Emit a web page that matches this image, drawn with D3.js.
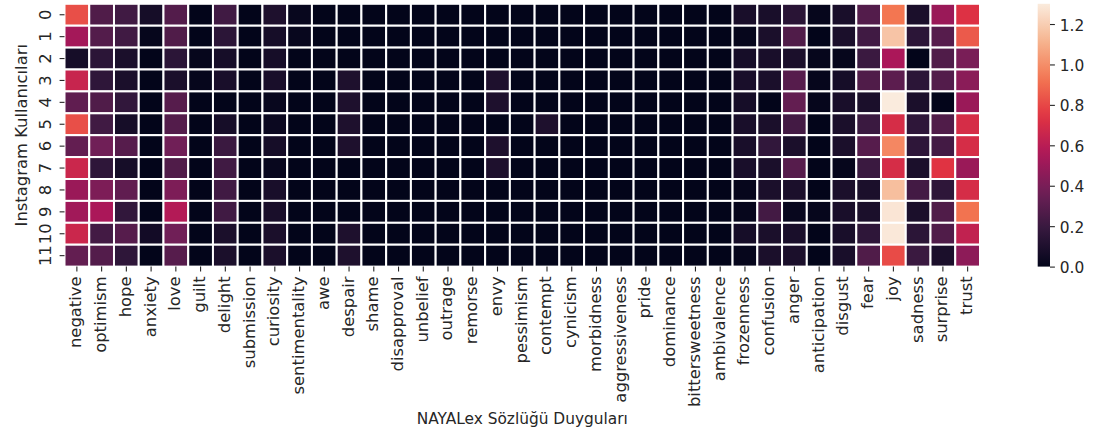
<!DOCTYPE html>
<html>
<head>
<meta charset="utf-8">
<script src="https://cdn.jsdelivr.net/npm/d3@7"></script>
<style>
  html, body { margin: 0; padding: 0; background: #ffffff; }
  svg { display: block; }
  text { font-family: "DejaVu Sans", sans-serif; fill: #262626; }
</style>
</head>
<body>
<svg id="chart" width="1094" height="435"></svg>
<script>
// Emotion categories of the NAYALex lexicon (columns)
const emotions = [
  "negative", "optimism", "hope", "anxiety", "love", "guilt", "delight",
  "submission", "curiosity", "sentimentality", "awe", "despair", "shame",
  "disapproval", "unbelief", "outrage", "remorse", "envy", "pessimism",
  "contempt", "cynicism", "morbidness", "aggressiveness", "pride",
  "dominance", "bittersweetness", "ambivalence", "frozenness", "confusion",
  "anger", "anticipation", "disgust", "fear", "joy", "sadness", "surprise", "trust"
];

// Instagram users (rows)
const users = ["0", "1", "2", "3", "4", "5", "6", "7", "8", "9", "10", "11"];

// Emotion scores per user; each row: negative..sentimentality | awe..ambivalence | frozenness..trust
const scores = [
  [0.82, 0.27, 0.22, 0.07, 0.28, 0.00, 0.22, 0.00, 0.10, 0.02,  0, 0,    0, 0, 0, 0, 0, 0,    0, 0,    0, 0, 0, 0, 0, 0, 0,  0.08, 0.08, 0.14, 0.01, 0.08, 0.28, 0.93, 0.09, 0.50, 0.73],
  [0.53, 0.28, 0.22, 0.01, 0.27, 0.00, 0.15, 0.00, 0.07, 0.02,  0, 0,    0, 0, 0, 0, 0, 0,    0, 0,    0, 0, 0, 0, 0, 0, 0,  0.01, 0.09, 0.27, 0.00, 0.09, 0.22, 1.17, 0.15, 0.29, 0.85],
  [0.07, 0.15, 0.09, 0.00, 0.15, 0.01, 0.07, 0.00, 0.07, 0.00,  0, 0,    0, 0, 0, 0, 0, 0,    0, 0,    0, 0, 0, 0, 0, 0, 0,  0.07, 0.08, 0.09, 0.01, 0.01, 0.20, 0.55, 0.00, 0.27, 0.40],
  [0.65, 0.16, 0.09, 0.00, 0.09, 0.01, 0.08, 0.00, 0.08, 0.00,  0, 0.10, 0, 0, 0, 0, 0, 0.10, 0, 0,    0, 0, 0, 0, 0, 0, 0,  0.08, 0.09, 0.29, 0.01, 0.07, 0.27, 0.31, 0.15, 0.28, 0.45],
  [0.32, 0.27, 0.17, 0.00, 0.29, 0.00, 0.00, 0.00, 0.02, 0.00,  0, 0.10, 0, 0, 0, 0, 0, 0.10, 0, 0,    0, 0, 0, 0, 0, 0, 0,  0.07, 0.00, 0.33, 0.01, 0.08, 0.09, 1.30, 0.09, 0.00, 0.50],
  [0.82, 0.22, 0.07, 0.00, 0.28, 0.00, 0.07, 0.00, 0.03, 0.00,  0, 0.10, 0, 0, 0, 0, 0, 0,    0, 0.10, 0, 0, 0, 0, 0, 0, 0,  0.08, 0.09, 0.23, 0.00, 0.09, 0.20, 0.70, 0.16, 0.27, 0.70],
  [0.33, 0.37, 0.29, 0.00, 0.37, 0.00, 0.20, 0.00, 0.07, 0.00,  0, 0.10, 0, 0, 0, 0, 0, 0.10, 0, 0,    0, 0, 0, 0, 0, 0, 0,  0.08, 0.17, 0.09, 0.00, 0.09, 0.29, 0.98, 0.16, 0.23, 0.70],
  [0.66, 0.16, 0.07, 0.00, 0.27, 0.00, 0.22, 0.00, 0.02, 0.00,  0, 0,    0, 0, 0, 0, 0, 0.10, 0, 0,    0, 0, 0, 0, 0, 0, 0,  0.08, 0.09, 0.29, 0.00, 0.01, 0.20, 0.70, 0.09, 0.74, 0.50],
  [0.50, 0.41, 0.32, 0.00, 0.41, 0.00, 0.22, 0.00, 0.08, 0.00,  0, 0,    0, 0, 0, 0, 0, 0,    0, 0,    0, 0, 0, 0, 0, 0, 0,  0.01, 0.09, 0.09, 0.00, 0.09, 0.09, 1.15, 0.23, 0.16, 0.70],
  [0.52, 0.55, 0.17, 0.00, 0.58, 0.00, 0.22, 0.00, 0.08, 0.00,  0, 0,    0, 0, 0, 0, 0, 0,    0, 0,    0, 0, 0, 0, 0, 0, 0,  0.01, 0.23, 0.02, 0.01, 0.08, 0.09, 1.28, 0.09, 0.27, 0.92],
  [0.66, 0.23, 0.29, 0.06, 0.37, 0.00, 0.09, 0.00, 0.09, 0.00,  0, 0.10, 0, 0, 0, 0, 0, 0,    0, 0,    0, 0, 0, 0, 0, 0, 0,  0.07, 0.09, 0.08, 0.00, 0.08, 0.16, 1.29, 0.15, 0.27, 0.63],
  [0.33, 0.28, 0.16, 0.00, 0.29, 0.00, 0.09, 0.00, 0.09, 0.00,  0, 0.10, 0, 0, 0, 0, 0, 0,    0, 0,    0, 0, 0, 0, 0, 0, 0,  0.01, 0.09, 0.09, 0.00, 0.08, 0.27, 0.81, 0.20, 0.09, 0.46]
];

// Colorbar tick values
const colorbarTicks = [0.0, 0.2, 0.4, 0.6, 0.8, 1.0, 1.2];

const xTitle = "NAYALex Sözlüğü Duyguları";
const yTitle = "Instagram Kullanıcıları";

// ---- layout ----
const FS = 15.4;        // font size
const SY = 1.065;       // vertical text stretch
const TICK = 4.9, PAD = 4.9;
const plot = { left: 64.5, right: 980, top: 3.8, bottom: 266.6 };
const cbar = { left: 1037.7, width: 12.3 };

const svg = d3.select("#chart");

const x = d3.scaleBand().domain(emotions).range([plot.left, plot.right]);
const y = d3.scaleBand().domain(users).range([plot.top, plot.bottom]);

const vmax = d3.max(scores.flat());
const rocket = d3.piecewise(d3.interpolateRgb, [
  "#03051A", "#35193E", "#701F57", "#AD1759", "#E13342", "#F37651", "#F6B48F", "#FAEBDD"
]);
const color = d3.scaleSequential(rocket).domain([0, vmax]);

// ---- heatmap cells ----
const cells = [];
scores.forEach((row, i) => row.forEach((v, j) => cells.push({ user: users[i], emotion: emotions[j], v })));

svg.append("g").attr("class", "cells")
  .selectAll("rect")
  .data(cells)
  .join("rect")
  .attr("x", d => x(d.emotion))
  .attr("y", d => y(d.user))
  .attr("width", x.bandwidth())
  .attr("height", y.bandwidth())
  .attr("fill", d => color(d.v))
  .attr("stroke", "#ffffff")
  .attr("stroke-width", 2);

// ---- x axis ----
const gx = svg.append("g")
  .attr("transform", `translate(0,${plot.bottom})`)
  .call(d3.axisBottom(x).tickSize(TICK).tickSizeOuter(0));
gx.select(".domain").remove();
gx.selectAll(".tick line").attr("stroke", "#262626").attr("stroke-width", 1.1);
gx.selectAll(".tick text")
  .attr("x", null).attr("y", null).attr("dy", null)
  .attr("fill", "#262626")
  .style("font-size", FS + "px")
  .attr("text-anchor", "end")
  .attr("transform", `translate(${0.29 * FS},${TICK + PAD}) scale(1,${SY}) rotate(-90)`);

// ---- y axis ----
const gy = svg.append("g")
  .attr("transform", `translate(${plot.left},0)`)
  .call(d3.axisLeft(y).tickSize(TICK).tickSizeOuter(0));
gy.select(".domain").remove();
gy.selectAll(".tick line").attr("stroke", "#262626").attr("stroke-width", 1.1);
gy.selectAll(".tick text")
  .attr("x", null).attr("y", null).attr("dy", null)
  .attr("fill", "#262626")
  .style("font-size", FS + "px")
  .attr("text-anchor", "middle")
  .attr("transform", `translate(${-(TICK + PAD + 0.236 * FS)},0) scale(1,${SY}) rotate(-90)`);

// ---- axis titles ----
svg.append("text")
  .attr("text-anchor", "middle")
  .style("font-size", FS + "px")
  .attr("transform", `translate(${(plot.left + plot.right) / 2},424) scale(1,${SY})`)
  .text(xTitle);

svg.append("text")
  .attr("text-anchor", "middle")
  .style("font-size", FS + "px")
  .attr("transform", `translate(26.7,${(plot.top + plot.bottom) / 2}) scale(1,${SY}) rotate(-90)`)
  .text(yTitle);

// ---- colorbar ----
const cy = d3.scaleLinear().domain([0, vmax]).range([plot.bottom, plot.top]);
const grad = svg.append("defs").append("linearGradient")
  .attr("id", "rocket-grad")
  .attr("x1", 0).attr("y1", 1).attr("x2", 0).attr("y2", 0);
d3.range(0, 1.0001, 0.05).forEach(t => {
  grad.append("stop").attr("offset", t).attr("stop-color", rocket(t));
});
svg.append("rect")
  .attr("x", cbar.left)
  .attr("y", plot.top)
  .attr("width", cbar.width)
  .attr("height", plot.bottom - plot.top)
  .attr("fill", "url(#rocket-grad)");

const gc = svg.append("g")
  .attr("transform", `translate(${cbar.left + cbar.width},0)`)
  .call(d3.axisRight(cy).tickValues(colorbarTicks).tickFormat(d3.format(".1f")).tickSize(TICK).tickSizeOuter(0));
gc.select(".domain").remove();
gc.selectAll(".tick line").attr("stroke", "#262626").attr("stroke-width", 1.1);
gc.selectAll(".tick text")
  .attr("x", null).attr("y", null).attr("dy", null)
  .attr("fill", "#262626")
  .style("font-size", FS + "px")
  .attr("text-anchor", "start")
  .attr("transform", `translate(${TICK + PAD},${0.365 * FS * SY}) scale(1,${SY})`);
</script>
</body>
</html>
